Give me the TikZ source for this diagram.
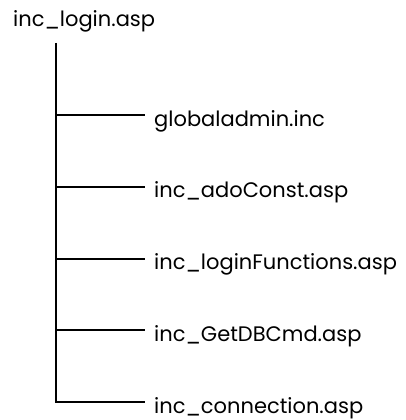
\documentclass[tikz,border=0pt]{standalone}
\usepackage{fontspec}
\setmainfont{Poppins}
\usetikzlibrary{positioning}

\begin{document}
\begin{tikzpicture}[
  x=1pt, y=1pt,
  node distance=71.75pt,
  every node/.style={font=\fontsize{21}{24}\selectfont, inner sep=0pt, text height=22pt, text depth=0pt},
  leaf/.style={anchor=west, inner xsep=9pt},
  branch/.style={line width=2pt}
]
  \fill[white] (0,0) rectangle (400,-420);

  \node (root) [anchor=base west] at (13,-27) {inc\_login.asp};
  \coordinate (top) at (56,-43);

  \node (f1) [leaf] at (145,-115) {globaladmin.inc};
  \node (f2) [leaf, below=of f1.west, anchor=west] {inc\_adoConst.asp};
  \node (f3) [leaf, below=of f2.west, anchor=west] {inc\_loginFunctions.asp};
  \node (f4) [leaf, below=of f3.west, anchor=west] {inc\_GetDBCmd.asp};
  \node (f5) [leaf, below=of f4.west, anchor=west] {inc\_connection.asp};

  \draw [branch] (top) |- (f5.west);
  \foreach \f in {f1,f2,f3,f4}
    \draw [branch] (top |- \f.west) -- (\f.west);
\end{tikzpicture}
\end{document}
